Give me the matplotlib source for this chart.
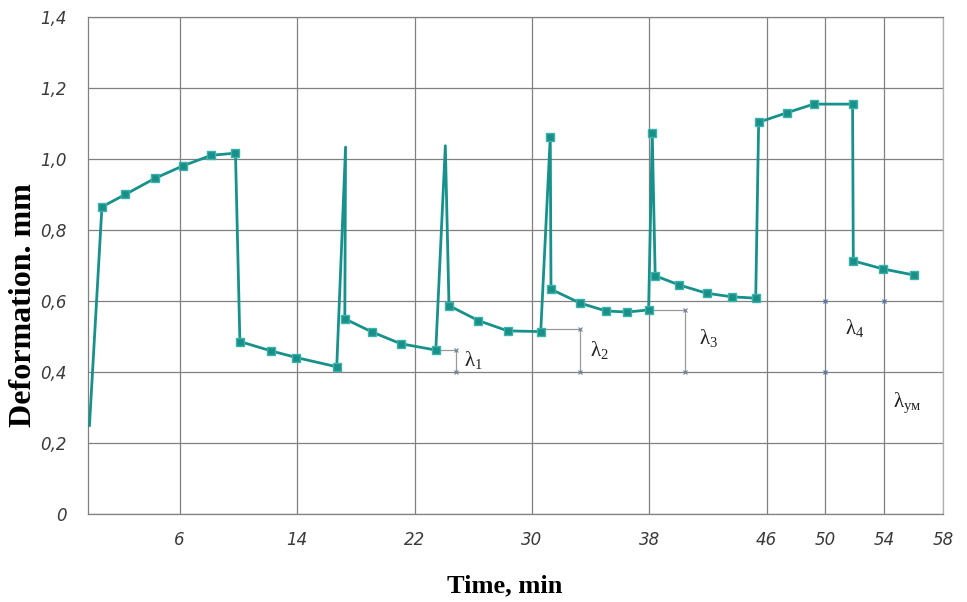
import matplotlib
matplotlib.use("Agg")
import matplotlib.pyplot as plt

# time, min / deformation, mm
time_min = [-0.15, 0.7, 2.3, 4.3, 6.2, 8.15, 9.8, 10.1, 12.2, 13.95, 16.7,
            17.3, 17.25, 19.1, 21.05, 23.45, 24.1, 24.35, 26.35, 28.35, 30.6,
            31.25, 31.3, 33.3, 35.05, 36.5, 37.95, 38.2, 38.4, 40.05, 41.9,
            43.6, 45.25, 45.45, 47.4, 49.2, 51.85, 51.9, 53.95, 56.05]
deform_mm = [0.25, 0.865, 0.90, 0.945, 0.98, 1.01, 1.016, 0.486, 0.46, 0.441, 0.415,
             1.033, 0.55, 0.513, 0.48, 0.462, 1.037, 0.587, 0.545, 0.516, 0.514,
             1.061, 0.633, 0.594, 0.572, 0.569, 0.575, 1.072, 0.671, 0.645, 0.622,
             0.612, 0.608, 1.103, 1.13, 1.154, 1.154, 0.713, 0.69, 0.673]
# points drawn without a square marker
unmarked = [0, 11, 16]

x_ticks = [6, 14, 22, 30, 38, 46, 50, 54, 58]
y_ticks = [0, 0.2, 0.4, 0.6, 0.8, 1.0, 1.2, 1.4]
y_tick_labels = ["0", "0,2", "0,4", "0,6", "0,8", "1,0", "1,2", "1,4"]

# dimension lines: (x_start, x_dim, y_top, y_bottom)
dims = [(23.45, 24.86, 0.462, 0.4),
        (30.6, 33.3, 0.521, 0.4),
        (37.95, 40.44, 0.576, 0.4)]
dim_marks_x = [50, 54, 50]
dim_marks_y = [0.6, 0.6, 0.4]
lambda_labels = ["1", "2", "3", "4", "ум"]
lambda_x = [25.4, 33.95, 41.4, 51.3, 54.6]
lambda_y = [0.433, 0.462, 0.495, 0.523, 0.313]

teal = "#17918b"
grid_c = "#808080"

fig = plt.figure(figsize=(9.67, 6.02), dpi=100)
ax = fig.add_axes([0.091, 0.1457, 0.884, 0.8266])

ax.set_xlim(-0.25, 58)
ax.set_ylim(0, 1.4)
ax.set_xticks(x_ticks)
ax.set_xticklabels([str(t) for t in x_ticks])
ax.set_yticks(y_ticks)
ax.set_yticklabels(y_tick_labels)
ax.grid(True, color=grid_c, linewidth=0.9)
ax.set_axisbelow(True)
for s in ax.spines.values():
    s.set_color(grid_c)
    s.set_linewidth(0.9)
ax.spines["right"].set_color("#b0b0b0")

ax.tick_params(length=0)
ax.tick_params(axis="x", pad=12)
ax.tick_params(axis="y", pad=15)
for lab in ax.get_xticklabels() + ax.get_yticklabels():
    lab.set_fontfamily("DejaVu Sans")
    lab.set_fontstyle("italic")
    lab.set_fontsize(12)
    lab.set_color("#3a3a3a")

# main curve
ax.plot(time_min, deform_mm, color=teal, linewidth=2.0, zorder=3)
marked = [i for i in range(len(time_min)) if i not in unmarked]
ax.plot([time_min[i] for i in marked], [deform_mm[i] for i in marked],
        linestyle="none", marker="s", markersize=5.5, markerfacecolor="#1a8f88",
        markeredgecolor="#3ab3ad", markeredgewidth=1.0, zorder=4)

# dimension lines
for x0, xd, yt, yb in dims:
    ax.plot([x0, xd], [yt, yt], color="#9a9a9a", linewidth=0.9, zorder=2)
    ax.plot([xd, xd], [yt, yb], color="#9a9a9a", linewidth=0.9, zorder=2)
    ax.plot([xd, xd], [yt, yb], linestyle="none", marker="x", markersize=3,
            color="#6f7f9a", markeredgewidth=0.8, zorder=2)
ax.plot(dim_marks_x, dim_marks_y, linestyle="none", marker="x", markersize=3,
        color="#5a78a8", markeredgewidth=0.9, zorder=2)

for sub, lx, ly in zip(lambda_labels, lambda_x, lambda_y):
    ax.text(lx, ly, r"$\mathregular{λ_{%s}}$" % sub, family="Liberation Serif",
            fontsize=15, color="#222222", ha="left", va="center", zorder=5)

fig.text(0.522, 0.027, "Time, min", family="Liberation Serif", fontweight="bold",
         fontsize=19, ha="center", va="center")
fig.text(0.024, 0.493, "Deformation. mm", family="Liberation Serif", fontweight="bold",
         fontsize=23, ha="center", va="center", rotation=90)

fig.savefig("out.png", dpi=100)
